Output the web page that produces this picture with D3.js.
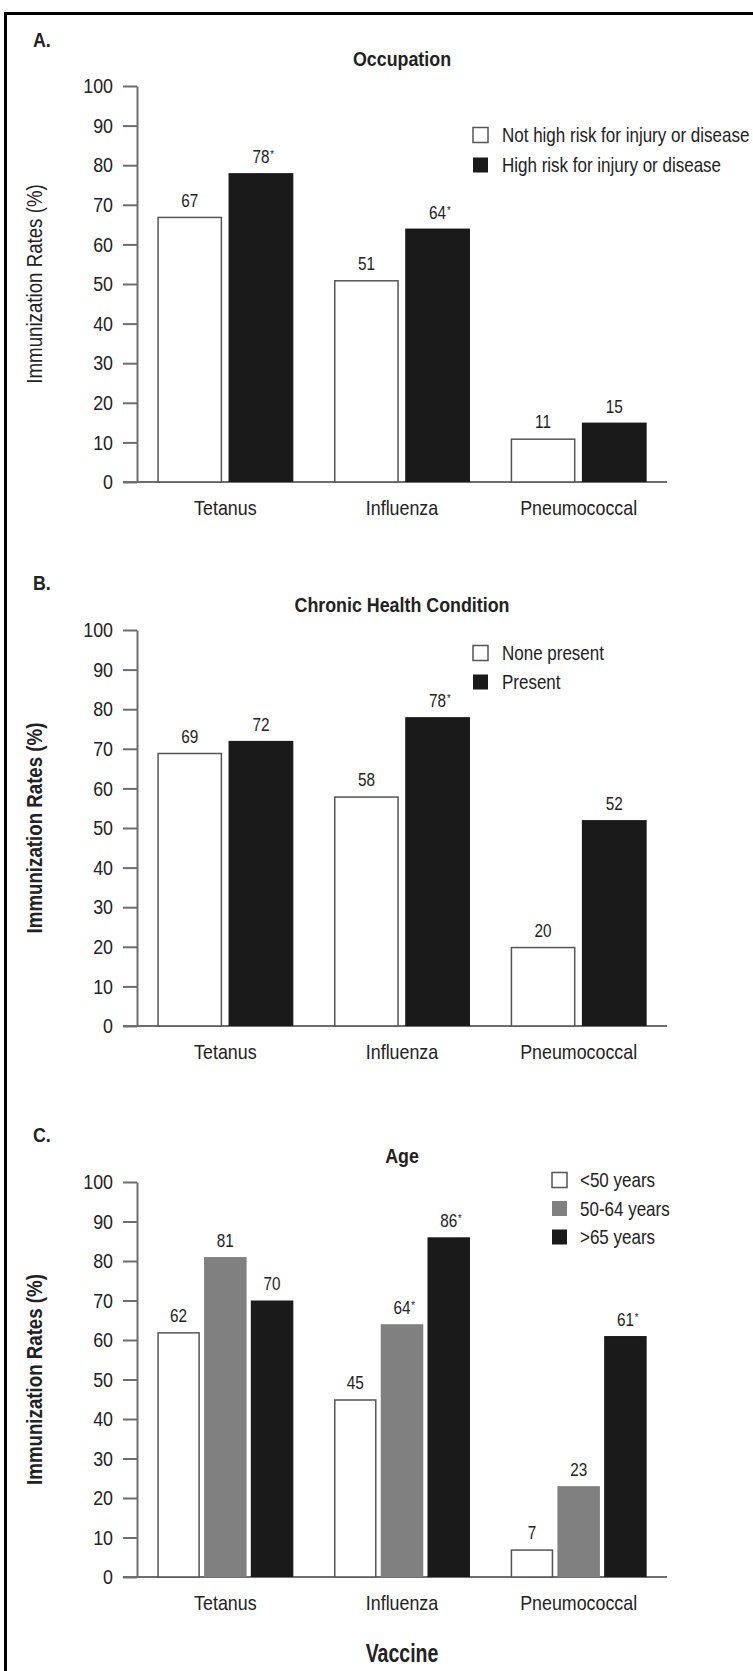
<!DOCTYPE html>
<html><head><meta charset="utf-8">
<script src="https://cdn.jsdelivr.net/npm/d3@7"></script>
<style>
body{margin:0;background:#fff;}
svg{display:block;}
text{font-family:"Liberation Sans",Arial,sans-serif; fill:#222;}
</style></head><body>
<svg id="chart" width="753" height="1671"></svg>
<script>
// ---------- DATA ----------
const categories = ["Tetanus", "Influenza", "Pneumococcal"];
const yTickValues = [0, 10, 20, 30, 40, 50, 60, 70, 80, 90, 100];

const occupationSeries = ["Not high risk for injury or disease", "High risk for injury or disease"];
const occupationNotHigh = [67, 51, 11];
const occupationHigh = [78, 64, 15];
const occupationNotHighSig = [false, false, false];
const occupationHighSig = [true, true, false];

const chronicSeries = ["None present", "Present"];
const chronicNone = [69, 58, 20];
const chronicPresent = [72, 78, 52];
const chronicNoneSig = [false, false, false];
const chronicPresentSig = [false, true, false];

const ageSeries = ["<50 years", "50-64 years", ">65 years"];
const ageUnder50 = [62, 45, 7];
const age50to64 = [81, 64, 23];
const ageOver65 = [70, 86, 61];
const ageUnder50Sig = [false, false, false];
const age50to64Sig = [false, true, false];
const ageOver65Sig = [false, true, true];

const yAxisTitle = "Immunization Rates (%)";
const xAxisTitle = "Vaccine";

// ---------- STYLE ----------
const WHITE = "#ffffff", GRAY = "#808080", BLACK = "#1a1a1a";
const AXIS = "#6e6e6e", OUTLINE = "#555";
const S = 0.85; // horizontal condensing of the type

const svg = d3.select("#chart");

// condense text horizontally (keeps the anchor point in place)
function narrow(sel, s) {
  s = s || S;
  sel.each(function () {
    const t = d3.select(this);
    const x = +t.attr("x") || 0;
    t.attr("x", x / s);
    const prev = t.attr("transform") || "";
    t.attr("transform", (prev + ` scale(${s},1)`).trim());
  });
  return sel;
}

// outer frame
svg.append("rect").attr("x", 5.5).attr("y", 13.5).attr("width", 800).attr("height", 1720)
  .attr("fill", "none").attr("stroke", "#000").attr("stroke-width", 3);

const plotLeft = 137, plotRight = 667;

function drawPanel(p) {
  const g = svg.append("g");
  const y = d3.scaleLinear().domain([0, 100]).range([p.yBottom, p.yTop]);
  const x0 = d3.scaleBand().domain(categories).range([plotLeft, plotRight]).padding(0);
  const groupW = 136;
  const x1 = d3.scaleBand().domain(d3.range(p.series.length)).range([0, groupW]).paddingInner(0.09);

  // panel letter
  narrow(g.append("text").attr("x", 33).attr("y", p.letterY).attr("font-weight", "bold")
    .attr("font-size", 21).text(p.letter));
  // title
  narrow(g.append("text").attr("x", (plotLeft + plotRight) / 2).attr("y", p.titleY)
    .attr("text-anchor", "middle").attr("font-weight", "bold").attr("font-size", 21).text(p.title));

  // y axis
  const ya = g.append("g").attr("transform", `translate(${plotLeft},0)`)
    .call(d3.axisLeft(y).tickValues(yTickValues).tickSize(14).tickSizeOuter(0).tickPadding(10));
  ya.select(".domain").attr("stroke", AXIS).attr("stroke-width", 2);
  ya.selectAll(".tick line").attr("stroke", AXIS).attr("stroke-width", 2);
  narrow(ya.selectAll(".tick text").attr("font-size", 21).attr("fill", "#222")
    .attr("font-family", "'Liberation Sans',Arial,sans-serif"));

  // x axis line
  const xa = g.append("g").attr("transform", `translate(0,${y(0)})`)
    .call(d3.axisBottom(x0).tickSize(0).tickSizeOuter(0).tickPadding(18));
  xa.select(".domain").attr("d", `M${plotLeft - 14},0H${plotRight}`).attr("stroke", AXIS).attr("stroke-width", 2);
  narrow(xa.selectAll(".tick text").attr("font-size", 21).attr("fill", "#222")
    .attr("font-family", "'Liberation Sans',Arial,sans-serif"));

  // y axis title
  narrow(g.append("text").attr("transform", `translate(42,${(p.yTop + p.yBottom) / 2}) rotate(-90)`)
    .attr("text-anchor", "middle").attr("font-size", 22)
    .attr("font-weight", p.yTitleBold ? "bold" : "normal").text(yAxisTitle));

  // bars
  p.series.forEach((s, si) => {
    const vals = p.values[si], sig = p.sig[si];
    const bars = g.append("g");
    categories.forEach((c, ci) => {
      const bx = x0(c) + (x0.bandwidth() - groupW) / 2 + x1(si);
      const bw = x1.bandwidth();
      const v = vals[ci];
      const isWhite = p.fills[si] === WHITE;
      bars.append("rect")
        .attr("x", isWhite ? bx + 0.75 : bx).attr("y", isWhite ? y(v) + 0.75 : y(v))
        .attr("width", isWhite ? bw - 1.5 : bw).attr("height", isWhite ? y(0) - y(v) - 0.75 : y(0) - y(v))
        .attr("fill", p.fills[si])
        .attr("stroke", isWhite ? OUTLINE : "none").attr("stroke-width", 1.5);
      const cx = bx + bw / 2, by = y(v) - 10;
      const t = bars.append("text").attr("x", cx).attr("y", by).attr("text-anchor", "middle")
        .attr("font-size", 18).text(v);
      const w = t.node().getComputedTextLength() * S;
      narrow(t);
      if (sig[ci]) {
        narrow(bars.append("text").attr("x", cx + w / 2 + 0.8).attr("y", by - 5)
          .attr("font-size", 11).text("*"));
      }
    });
  });

  // legend
  p.series.forEach((s, si) => {
    const ly = p.legendY + si * p.legendStep;
    const isWhite = p.fills[si] === WHITE;
    g.append("rect").attr("x", p.legendX).attr("y", ly - 7.5).attr("width", 15).attr("height", 15)
      .attr("fill", p.fills[si]).attr("stroke", isWhite ? OUTLINE : "none").attr("stroke-width", 1.5);
    narrow(g.append("text").attr("x", p.legendX + p.legendGap).attr("y", ly).attr("dy", "0.36em")
      .attr("font-size", 20).text(s));
  });
}

drawPanel({
  letter: "A.", letterY: 47, title: "Occupation", titleY: 66,
  yTop: 86, yBottom: 482, yTitleBold: false,
  series: occupationSeries, values: [occupationNotHigh, occupationHigh],
  sig: [occupationNotHighSig, occupationHighSig], fills: [WHITE, BLACK],
  legendX: 473, legendGap: 29, legendY: 135, legendStep: 30
});
drawPanel({
  letter: "B.", letterY: 590, title: "Chronic Health Condition", titleY: 612,
  yTop: 630, yBottom: 1026, yTitleBold: true,
  series: chronicSeries, values: [chronicNone, chronicPresent],
  sig: [chronicNoneSig, chronicPresentSig], fills: [WHITE, BLACK],
  legendX: 473, legendGap: 29, legendY: 653, legendStep: 29
});
drawPanel({
  letter: "C.", letterY: 1142, title: "Age", titleY: 1163,
  yTop: 1182, yBottom: 1577, yTitleBold: true,
  series: ageSeries, values: [ageUnder50, age50to64, ageOver65],
  sig: [ageUnder50Sig, age50to64Sig, ageOver65Sig], fills: [WHITE, GRAY, BLACK],
  legendX: 552, legendGap: 28, legendY: 1180, legendStep: 28.5
});

narrow(svg.append("text").attr("x", (plotLeft + plotRight) / 2).attr("y", 1662)
  .attr("text-anchor", "middle").attr("font-weight", "bold").attr("font-size", 25).text(xAxisTitle), 0.78);
</script>
</body></html>
